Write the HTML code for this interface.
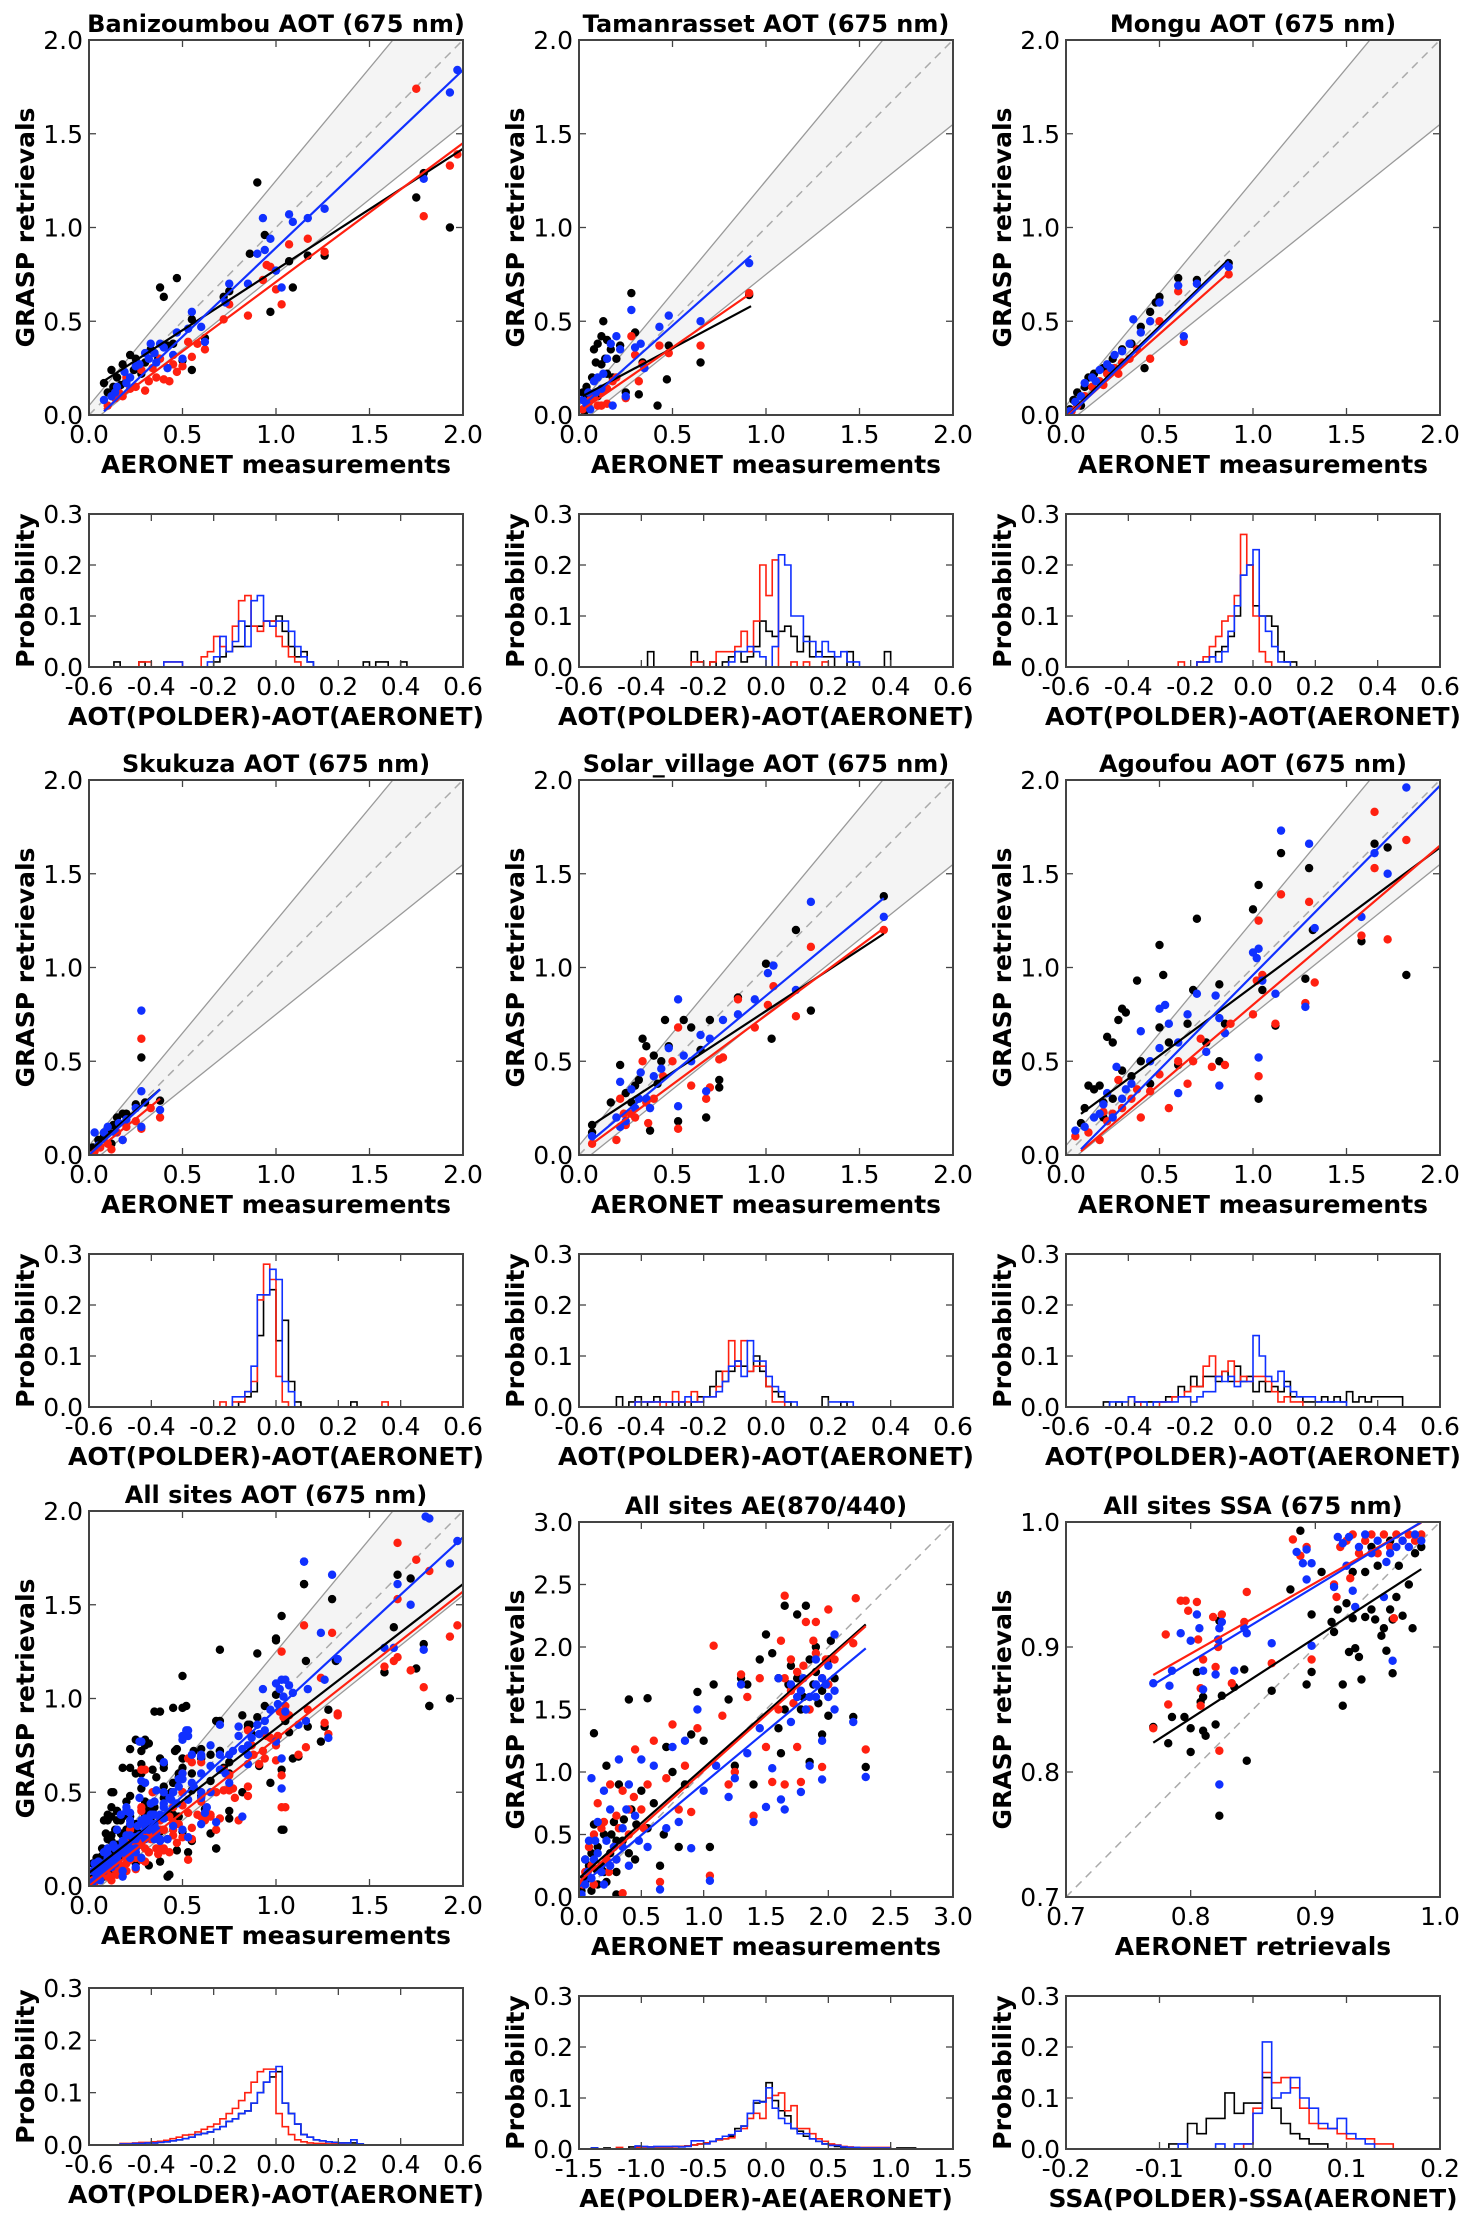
<!DOCTYPE html>
<html><head><meta charset="utf-8"><style>
html,body{margin:0;padding:0;background:#fff;}
svg{display:block;font-family:"DejaVu Sans","Liberation Sans",sans-serif;}
</style></head><body>
<svg id="fig" width="1472" height="2223" viewBox="0 0 1472 2223" xmlns="http://www.w3.org/2000/svg"></svg>
<script>
// ===== DATA =====
const aotTicks = [0, 0.5, 1.0, 1.5, 2.0];
const aeTicks = [0, 0.5, 1.0, 1.5, 2.0, 2.5, 3.0];
const ssaTicks = [0.7, 0.8, 0.9, 1.0];
const histYTicks = [0, 0.1, 0.2, 0.3];
const aotDiffTicks = [-0.6, -0.4, -0.2, 0.0, 0.2, 0.4, 0.6];
const aeDiffTicks = [-1.5, -1.0, -0.5, 0.0, 0.5, 1.0, 1.5];
const ssaDiffTicks = [-0.2, -0.1, 0.0, 0.1, 0.2];

// Banizoumbou
const banBlack = [[0.08,0.17],[0.1,0.12],[0.12,0.24],[0.15,0.2],[0.18,0.27],[0.22,0.32],[0.25,0.3],[0.3,0.28],[0.33,0.35],[0.38,0.68],[0.4,0.63],[0.42,0.37],[0.47,0.73],[0.5,0.29],[0.55,0.24],[0.55,0.51],[0.62,0.41],[0.72,0.63],[0.75,0.66],[0.86,0.86],[0.9,1.24],[0.94,0.96],[0.97,0.55],[1.07,0.82],[1.09,0.68],[1.17,0.85],[1.26,0.85],[1.75,1.16],[1.79,1.29],[1.93,1.0],[0.2,0.18],[0.28,0.22],[0.35,0.33],[0.45,0.38],[0.13,0.15],[0.17,0.16],[0.24,0.24],[0.37,0.3]];
const banRed = [[0.1,0.05],[0.14,0.09],[0.18,0.1],[0.2,0.2],[0.25,0.15],[0.28,0.24],[0.3,0.13],[0.32,0.18],[0.36,0.2],[0.4,0.19],[0.43,0.18],[0.47,0.23],[0.5,0.26],[0.53,0.39],[0.55,0.31],[0.58,0.38],[0.62,0.35],[0.72,0.51],[0.75,0.59],[0.85,0.53],[0.93,0.72],[0.95,0.8],[0.97,0.79],[1.0,0.67],[1.03,0.59],[1.07,0.91],[1.17,0.94],[1.26,0.87],[1.75,1.74],[1.79,1.06],[1.93,1.33],[1.97,1.39],[0.38,0.3],[0.45,0.27],[0.16,0.12],[0.22,0.14],[0.34,0.25]];
const banBlue = [[0.08,0.08],[0.12,0.1],[0.15,0.15],[0.19,0.23],[0.22,0.2],[0.27,0.27],[0.3,0.33],[0.33,0.38],[0.36,0.28],[0.38,0.38],[0.42,0.25],[0.45,0.32],[0.47,0.44],[0.5,0.3],[0.53,0.46],[0.55,0.55],[0.6,0.47],[0.62,0.39],[0.73,0.6],[0.75,0.7],[0.85,0.7],[0.9,0.86],[0.93,1.05],[0.94,0.88],[0.97,0.94],[1.0,0.77],[1.03,0.68],[1.07,1.07],[1.09,1.03],[1.17,1.05],[1.26,1.1],[1.79,1.26],[1.93,1.72],[1.97,1.84],[0.25,0.26],[0.35,0.33],[0.4,0.36],[0.14,0.12],[0.2,0.17],[0.32,0.3]];
const banFitSlope = [0.645, 0.74, 0.948];
const banFitIntercept = [0.13, -0.03, -0.056];
const banFitRange = [0.08, 2.0];

// Tamanrasset
const tamBlack = [[0.02,0.12],[0.04,0.15],[0.06,0.08],[0.08,0.35],[0.1,0.38],[0.12,0.42],[0.12,0.27],[0.13,0.5],[0.15,0.4],[0.17,0.35],[0.18,0.2],[0.2,0.3],[0.22,0.37],[0.25,0.12],[0.28,0.65],[0.3,0.44],[0.32,0.11],[0.34,0.28],[0.42,0.05],[0.47,0.19],[0.48,0.37],[0.65,0.28],[0.05,0.05],[0.1,0.1],[0.15,0.22],[0.07,0.2],[0.03,0.02],[0.91,0.64],[0.04,0.1],[0.09,0.28],[0.14,0.3]];
const tamRed = [[0.02,0.03],[0.05,0.06],[0.08,0.1],[0.1,0.05],[0.12,0.12],[0.15,0.14],[0.18,0.18],[0.2,0.2],[0.25,0.09],[0.28,0.42],[0.3,0.32],[0.32,0.18],[0.34,0.27],[0.43,0.37],[0.48,0.33],[0.65,0.37],[0.91,0.65],[0.15,0.06],[0.06,0.08],[0.12,0.05]];
const tamBlue = [[0.02,0.08],[0.05,0.12],[0.08,0.18],[0.1,0.2],[0.12,0.14],[0.15,0.3],[0.17,0.38],[0.2,0.42],[0.22,0.35],[0.25,0.1],[0.28,0.56],[0.3,0.36],[0.33,0.38],[0.35,0.25],[0.43,0.47],[0.48,0.53],[0.65,0.5],[0.91,0.81],[0.06,0.03],[0.18,0.05],[0.13,0.22],[0.04,0.06],[0.09,0.12]];
const tamFitSlope = [0.533, 0.689, 0.889];
const tamFitIntercept = [0.09, 0.016, 0.032];
const tamFitRange = [0.02, 0.92];

// Mongu
const monBlack = [[0.02,0.03],[0.04,0.08],[0.06,0.12],[0.1,0.15],[0.12,0.2],[0.15,0.22],[0.2,0.25],[0.25,0.3],[0.3,0.35],[0.35,0.38],[0.4,0.47],[0.45,0.55],[0.48,0.6],[0.5,0.63],[0.6,0.73],[0.7,0.72],[0.87,0.81],[0.42,0.25],[0.08,0.05]];
const monRed = [[0.03,0.02],[0.06,0.05],[0.1,0.1],[0.14,0.15],[0.18,0.18],[0.22,0.22],[0.26,0.25],[0.3,0.28],[0.34,0.3],[0.38,0.35],[0.45,0.3],[0.5,0.5],[0.6,0.66],[0.63,0.39],[0.87,0.75],[0.2,0.16],[0.28,0.22]];
const monBlue = [[0.02,0.02],[0.05,0.07],[0.08,0.1],[0.1,0.17],[0.14,0.2],[0.18,0.24],[0.22,0.27],[0.26,0.32],[0.3,0.34],[0.34,0.38],[0.36,0.51],[0.4,0.44],[0.45,0.5],[0.5,0.6],[0.6,0.69],[0.7,0.7],[0.87,0.79],[0.63,0.42],[0.16,0.18],[0.24,0.25]];
const monFitSlope = [0.965, 0.884, 0.965];
const monFitIntercept = [-0.01, -0.01, -0.02];
const monFitRange = [0.01, 0.87];

// Skukuza
const skuBlack = [[0.02,0.04],[0.05,0.08],[0.08,0.1],[0.1,0.14],[0.13,0.16],[0.15,0.2],[0.18,0.22],[0.2,0.22],[0.25,0.27],[0.28,0.52],[0.3,0.28],[0.38,0.29],[0.12,0.06]];
const skuRed = [[0.03,0.02],[0.06,0.04],[0.1,0.06],[0.12,0.03],[0.15,0.12],[0.18,0.08],[0.2,0.15],[0.25,0.18],[0.28,0.62],[0.28,0.14],[0.38,0.2],[0.33,0.25]];
const skuBlue = [[0.03,0.12],[0.05,0.05],[0.08,0.12],[0.1,0.15],[0.14,0.12],[0.16,0.17],[0.2,0.19],[0.25,0.25],[0.28,0.77],[0.28,0.34],[0.28,0.15],[0.38,0.24],[0.18,0.08]];
const skuFitSlope = [0.87, 0.816, 0.92];
const skuFitIntercept = [0.02, -0.01, 0.0];
const skuFitRange = [0.0, 0.38];

// Solar village
const solBlack = [[0.07,0.16],[0.07,0.12],[0.17,0.28],[0.22,0.48],[0.25,0.33],[0.3,0.37],[0.34,0.62],[0.36,0.58],[0.38,0.13],[0.4,0.53],[0.44,0.5],[0.46,0.72],[0.48,0.58],[0.53,0.18],[0.56,0.72],[0.6,0.68],[0.65,0.56],[0.68,0.2],[0.7,0.72],[0.75,0.36],[0.75,0.4],[0.85,0.84],[1.0,1.02],[1.03,0.62],[1.16,1.2],[1.24,0.77],[1.63,1.38],[0.28,0.28],[0.32,0.4],[0.42,0.38]];
const solRed = [[0.07,0.06],[0.2,0.08],[0.22,0.3],[0.25,0.16],[0.3,0.2],[0.34,0.5],[0.37,0.17],[0.4,0.3],[0.45,0.42],[0.5,0.5],[0.53,0.68],[0.53,0.14],[0.6,0.37],[0.68,0.3],[0.7,0.36],[0.75,0.51],[0.77,0.52],[0.85,0.83],[0.94,0.68],[1.01,0.8],[1.04,0.9],[1.16,0.74],[1.24,1.11],[1.63,1.2],[0.28,0.22],[0.24,0.22],[0.36,0.28]];
const solBlue = [[0.07,0.1],[0.2,0.2],[0.22,0.39],[0.25,0.18],[0.3,0.25],[0.33,0.44],[0.36,0.3],[0.4,0.42],[0.44,0.46],[0.48,0.57],[0.53,0.83],[0.53,0.26],[0.56,0.53],[0.6,0.5],[0.65,0.64],[0.68,0.34],[0.7,0.62],[0.77,0.72],[0.85,0.75],[0.94,0.83],[1.01,0.97],[1.04,1.01],[1.16,0.88],[1.24,1.35],[1.63,1.27],[0.28,0.35],[0.38,0.25],[0.22,0.15],[0.32,0.3]];
const solFitSlope = [0.654, 0.737, 0.827];
const solFitIntercept = [0.114, 0.008, 0.022];
const solFitRange = [0.07, 1.63];

// Agoufou
const agoBlack = [[0.08,0.17],[0.12,0.37],[0.15,0.35],[0.18,0.37],[0.2,0.28],[0.22,0.63],[0.25,0.6],[0.28,0.72],[0.3,0.78],[0.32,0.76],[0.35,0.42],[0.38,0.93],[0.4,0.5],[0.45,0.38],[0.5,1.12],[0.5,0.68],[0.52,0.96],[0.55,0.6],[0.6,0.48],[0.65,0.7],[0.68,0.88],[0.7,1.26],[0.75,0.6],[0.82,0.91],[0.82,0.5],[0.85,0.7],[1.0,1.31],[1.03,1.44],[1.03,0.3],[1.05,0.88],[1.15,1.61],[1.12,0.69],[1.3,1.53],[1.28,0.94],[1.32,1.2],[1.58,1.14],[1.65,1.66],[1.72,1.64],[1.82,0.96],[0.3,0.45],[0.25,0.3],[0.1,0.25],[0.2,0.2]];
const agoRed = [[0.05,0.1],[0.12,0.12],[0.18,0.08],[0.2,0.23],[0.22,0.18],[0.28,0.4],[0.3,0.25],[0.35,0.3],[0.4,0.2],[0.45,0.34],[0.5,0.43],[0.55,0.25],[0.6,0.5],[0.65,0.38],[0.68,0.5],[0.72,0.62],[0.78,0.47],[0.85,0.48],[0.88,0.7],[1.0,0.75],[1.02,0.93],[1.03,1.25],[1.05,0.96],[1.03,0.42],[1.12,0.7],[1.15,1.39],[1.28,0.81],[1.3,1.35],[1.33,0.92],[1.58,1.17],[1.65,1.83],[1.65,1.53],[1.72,1.15],[1.82,1.68],[0.25,0.22],[0.38,0.35]];
const agoBlue = [[0.05,0.13],[0.1,0.15],[0.15,0.2],[0.2,0.27],[0.22,0.33],[0.25,0.2],[0.27,0.47],[0.3,0.3],[0.35,0.38],[0.4,0.66],[0.45,0.5],[0.5,0.57],[0.5,0.78],[0.53,0.8],[0.55,0.7],[0.6,0.6],[0.65,0.75],[0.7,0.86],[0.75,0.55],[0.8,0.85],[0.82,0.37],[0.82,0.73],[0.85,0.65],[1.0,1.08],[1.02,1.05],[1.03,1.1],[1.03,0.52],[1.05,0.93],[1.12,0.86],[1.15,1.73],[1.28,0.79],[1.3,1.66],[1.33,1.21],[1.58,1.27],[1.65,1.61],[1.72,1.5],[1.82,1.96],[0.6,0.33],[0.18,0.22],[0.32,0.35]];
const agoFitSlope = [0.74, 0.849, 1.01];
const agoFitIntercept = [0.16, -0.048, -0.05];
const agoFitRange = [0.08, 2.0];

// All sites AOT (union of sites + other sites)
const allExtraBlack = [[0.1,0.35],[0.12,0.5],[0.15,0.4],[0.18,0.63],[0.2,0.45],[0.22,0.73],[0.25,0.78],[0.28,0.6],[0.3,0.75],[0.35,0.93],[0.4,0.65],[0.45,0.95],[0.5,0.95],[0.43,0.06],[0.68,0.2],[0.7,0.88],[0.85,0.86],[0.9,0.9],[1.0,1.32],[1.04,0.3],[1.15,1.61],[1.58,1.14],[1.82,0.96],[0.05,0.15],[0.1,0.25],[0.2,0.3],[0.3,0.4],[0.05,0.07],[0.15,0.2]];
const allExtraRed = [[0.05,0.05],[0.15,0.15],[0.3,0.62],[0.5,0.6],[0.55,0.66],[0.8,0.35],[1.05,0.42],[1.33,0.91],[1.65,1.22],[0.2,0.12],[0.4,0.3],[0.6,0.45],[0.75,0.52]];
const allExtraBlue = [[0.05,0.1],[0.1,0.2],[0.2,0.4],[0.27,0.77],[0.3,0.55],[0.5,0.8],[0.52,0.83],[0.4,0.5],[1.05,1.1],[1.15,1.73],[1.8,1.97],[0.35,0.45],[0.6,0.7],[0.8,0.8]];
const allFitSlope = [0.77, 0.785, 0.92];
const allFitIntercept = [0.07, 0.0, 0.02];
const allFitRange = [0.0, 2.0];

// All sites AE
const aeBlack = [[0.05,0.3],[0.08,0.15],[0.1,0.05],[0.12,1.31],[0.12,0.58],[0.15,0.4],[0.18,0.25],[0.2,0.5],[0.22,1.05],[0.25,0.35],[0.28,0.6],[0.3,0.2],[0.32,0.9],[0.35,0.45],[0.4,1.58],[0.42,0.7],[0.45,0.3],[0.5,0.85],[0.55,1.59],[0.55,0.55],[0.6,0.75],[0.65,0.25],[0.68,0.5],[0.7,1.2],[0.75,1.0],[0.8,0.4],[0.85,0.9],[0.9,1.3],[0.95,1.64],[1.05,0.4],[1.0,1.25],[1.08,1.7],[1.2,1.58],[1.25,1.05],[1.3,1.75],[1.35,1.7],[1.4,0.9],[1.45,1.9],[1.5,2.1],[1.55,1.95],[1.6,1.35],[1.62,1.15],[1.65,2.33],[1.68,1.7],[1.75,2.26],[1.78,1.5],[1.82,2.33],[1.85,1.08],[1.9,1.8],[1.95,1.3],[2.0,1.45],[2.05,1.75],[2.2,1.44],[2.3,1.04],[1.9,2.0],[1.8,1.6],[0.3,0.02],[0.15,0.1],[0.05,0.15],[0.1,0.35],[0.2,0.2],[0.3,0.45],[0.4,0.35],[1.7,1.85],[1.85,1.9],[1.95,1.65],[2.0,1.9],[1.65,1.5],[0.02,0.05],[0.08,0.25],[0.14,0.22],[0.22,0.12],[0.26,0.5],[0.36,0.62],[0.46,0.58],[1.75,1.75],[1.88,1.7],[1.92,1.55],[2.02,2.05],[1.6,1.75]];
const aeRed = [[0.05,0.2],[0.08,0.4],[0.12,0.1],[0.15,0.75],[0.18,0.55],[0.22,0.3],[0.25,0.9],[0.28,0.4],[0.3,0.65],[0.35,0.85],[0.4,0.5],[0.45,1.18],[0.5,0.7],[0.55,0.9],[0.6,1.25],[0.65,0.12],[0.7,0.95],[0.75,1.38],[0.8,0.7],[0.85,1.05],[0.9,0.68],[0.95,1.35],[1.05,0.17],[1.08,2.01],[1.15,1.45],[1.2,0.9],[1.25,1.0],[1.3,1.78],[1.35,1.6],[1.4,0.65],[1.45,1.75],[1.5,1.2],[1.55,0.92],[1.6,1.5],[1.62,2.05],[1.65,2.41],[1.65,0.9],[1.7,1.9],[1.75,1.2],[1.78,0.92],[1.82,2.2],[1.85,1.5],[1.9,2.2],[1.95,1.04],[2.0,2.3],[2.05,1.9],[2.2,2.03],[2.22,2.39],[2.3,1.18],[1.95,1.75],[1.7,1.65],[0.35,0.03],[0.1,0.25],[0.2,0.6],[0.3,0.3],[0.4,0.7],[1.75,1.8],[1.9,1.95],[2.0,1.7],[1.65,1.75],[0.03,0.1],[0.12,0.5],[0.24,0.2],[0.32,0.55],[0.44,0.8],[0.52,0.55],[1.8,1.85],[1.88,2.05],[1.98,1.9],[1.72,1.55]];
const aeBlue = [[0.05,0.1],[0.08,0.45],[0.1,0.95],[0.12,0.3],[0.15,0.6],[0.18,0.2],[0.2,0.85],[0.22,0.45],[0.25,0.7],[0.3,0.3],[0.32,1.1],[0.35,0.55],[0.4,0.9],[0.45,0.65],[0.5,1.1],[0.55,0.4],[0.6,1.05],[0.65,0.06],[0.7,0.55],[0.75,1.2],[0.8,0.6],[0.85,1.25],[0.9,0.39],[0.95,1.5],[1.0,0.85],[1.05,0.13],[1.1,1.05],[1.2,0.8],[1.25,0.95],[1.3,1.7],[1.35,1.15],[1.4,0.6],[1.45,1.35],[1.5,0.72],[1.55,1.03],[1.6,1.75],[1.62,0.78],[1.65,0.7],[1.7,1.4],[1.75,1.6],[1.78,0.84],[1.8,1.75],[1.85,1.05],[1.9,1.7],[1.95,0.94],[1.95,1.25],[2.0,1.85],[2.05,1.5],[2.2,1.4],[2.3,0.96],[1.9,1.9],[2.05,2.1],[0.4,0.25],[0.05,0.3],[0.1,0.15],[0.15,0.35],[0.25,0.25],[0.35,0.4],[1.85,1.6],[1.95,1.75],[1.7,1.7],[2.0,1.6],[0.02,0.02],[0.07,0.2],[0.13,0.45],[0.2,0.1],[0.28,0.4],[0.38,0.7],[0.48,0.45],[1.78,1.65],[1.82,1.5],[1.9,1.6],[1.98,1.7],[2.05,1.65]];
const aeFitSlope = [0.883, 0.89, 0.83];
const aeFitIntercept = [0.15, 0.12, 0.08];
const aeFitRange = [0.0, 2.3];

// All sites SSA
const ssaBlack = [[0.77,0.836],[0.782,0.823],[0.785,0.844],[0.795,0.844],[0.8,0.835],[0.8,0.816],[0.805,0.88],[0.808,0.856],[0.81,0.833],[0.812,0.829],[0.81,0.86],[0.82,0.838],[0.823,0.921],[0.825,0.861],[0.823,0.765],[0.835,0.868],[0.843,0.882],[0.845,0.809],[0.865,0.865],[0.88,0.946],[0.888,0.993],[0.893,0.87],[0.897,0.88],[0.897,0.926],[0.913,0.92],[0.915,0.912],[0.918,0.93],[0.922,0.87],[0.922,0.853],[0.925,0.935],[0.927,0.896],[0.93,0.923],[0.932,0.899],[0.935,0.892],[0.937,0.874],[0.94,0.96],[0.94,0.924],[0.945,0.93],[0.948,0.922],[0.95,0.965],[0.953,0.909],[0.955,0.915],[0.957,0.897],[0.96,0.93],[0.962,0.879],[0.962,0.922],[0.965,0.94],[0.967,0.965],[0.97,0.925],[0.975,0.95],[0.978,0.915],[0.98,0.975],[0.985,0.98],[0.945,0.98],[0.93,0.96],[0.96,0.985],[0.905,0.96]];
const ssaRed = [[0.77,0.835],[0.78,0.91],[0.782,0.854],[0.792,0.937],[0.796,0.937],[0.798,0.929],[0.805,0.936],[0.806,0.906],[0.808,0.853],[0.808,0.867],[0.81,0.89],[0.818,0.924],[0.82,0.884],[0.822,0.9],[0.823,0.817],[0.825,0.926],[0.833,0.871],[0.845,0.944],[0.843,0.92],[0.865,0.887],[0.882,0.986],[0.888,0.973],[0.893,0.98],[0.897,0.89],[0.915,0.95],[0.917,0.94],[0.92,0.98],[0.925,0.985],[0.93,0.99],[0.935,0.975],[0.94,0.985],[0.945,0.99],[0.95,0.975],[0.955,0.99],[0.96,0.98],[0.963,0.923],[0.965,0.99],[0.97,0.985],[0.975,0.99],[0.98,0.985],[0.985,0.99],[0.928,0.955]];
const ssaBlue = [[0.77,0.871],[0.783,0.869],[0.785,0.881],[0.792,0.911],[0.8,0.905],[0.805,0.926],[0.807,0.915],[0.81,0.881],[0.81,0.866],[0.82,0.878],[0.822,0.906],[0.823,0.915],[0.825,0.92],[0.823,0.79],[0.835,0.881],[0.843,0.915],[0.845,0.911],[0.865,0.903],[0.885,0.976],[0.89,0.967],[0.893,0.954],[0.893,0.978],[0.897,0.967],[0.897,0.901],[0.915,0.948],[0.918,0.988],[0.922,0.983],[0.925,0.965],[0.927,0.988],[0.93,0.945],[0.932,0.932],[0.935,0.98],[0.94,0.99],[0.945,0.975],[0.95,0.985],[0.955,0.94],[0.957,0.968],[0.96,0.975],[0.962,0.889],[0.965,0.98],[0.97,0.985],[0.975,0.98],[0.98,0.99],[0.985,0.985]];
const ssaFitSlope = [0.646, 0.567, 0.605];
const ssaFitIntercept = [0.326, 0.441, 0.404];
const ssaFitRange = [0.77, 0.985];

// Histograms: values per bin + start
const banHistBlack = [0.01,0,0,0,0.01,0,0,0,0,0,0,0,0,0,0,0,0.01,0.02,0.03,0.04,0.04,0.08,0.08,0.08,0.09,0.09,0.10,0.07,0.04,0.02,0.03,0.01,0,0,0,0,0,0,0,0,0.01,0,0.01,0.01,0,0,0.01];
const banHistRed = [0.01,0.01,0,0,0.01,0.01,0.01,0,0,0,0.02,0.03,0.06,0.04,0.03,0.08,0.13,0.14,0.08,0.07,0.09,0.09,0.06,0.04,0.02,0.01];
const banHistBlue = [0.01,0.01,0.01,0,0,0,0,0.01,0.02,0.06,0.03,0.05,0.09,0.04,0.13,0.14,0.09,0.08,0.09,0.09,0.07,0.04,0.02,0.01];
const banHistStart = [-0.52, -0.44, -0.36];
const tamHistBlack = [0.03,0,0,0,0,0,0,0.03,0.01,0,0.01,0,0.01,0.02,0.03,0.01,0.02,0.04,0.09,0.07,0.06,0.07,0.08,0.06,0.03,0.06,0.02,0.03,0.02,0.02,0,0,0.03,0,0,0,0,0,0.03];
const tamHistRed = [0.01,0.01,0,0.01,0.03,0.03,0.03,0.04,0.07,0.03,0.09,0.20,0.14,0.21,0,0,0.01,0,0.01,0,0,0.01];
const tamHistBlue = [0.01,0.03,0.03,0.04,0.03,0.02,0,0.04,0.22,0.20,0.10,0.10,0.05,0.05,0.02,0.05,0.03,0.02,0.03,0.01,0.01];
const tamHistStart = [-0.38, -0.24, -0.12];
const monHistBlack = [0.01,0.01,0.02,0.03,0.04,0.06,0.10,0.18,0.20,0.12,0.10,0.10,0.08,0.03,0.01,0.01];
const monHistRed = [0.01,0,0,0.01,0.02,0.04,0.06,0.09,0.10,0.14,0.26,0.20,0.10,0.03,0.01];
const monHistBlue = [0.01,0.01,0.02,0.01,0.03,0.07,0.12,0.18,0.20,0.23,0.10,0.07,0.04,0.01,0.01];
const monHistStart = [-0.18, -0.24, -0.18];
const skuHistBlack = [0.01,0.02,0.03,0.14,0.22,0.23,0.13,0.17,0.05,0.01,0,0,0,0,0,0,0,0,0.01];
const skuHistRed = [0.01,0,0.01,0.01,0.03,0.05,0.21,0.28,0.25,0.06,0.01,0,0,0,0,0,0,0,0,0,0,0,0,0,0,0,0.01];
const skuHistBlue = [0.02,0.02,0.03,0.08,0.22,0.22,0.27,0.25,0.05,0.03];
const skuHistStart = [-0.12, -0.18, -0.14];
const solHistBlack = [0.02,0,0.01,0.02,0,0.01,0.02,0.01,0.01,0,0.01,0,0.01,0.02,0.02,0.04,0.07,0.05,0.07,0.09,0.08,0.07,0.10,0.07,0.04,0.03,0.02,0.01,0,0,0,0,0,0.02,0,0,0.01];
const solHistRed = [0.01,0.01,0.01,0.01,0,0.01,0.03,0.01,0.01,0.03,0.01,0.02,0.02,0.04,0.07,0.13,0.08,0.13,0.07,0.08,0.08,0.04,0.01,0.01];
const solHistBlue = [0.01,0.01,0.01,0.01,0.01,0.01,0.01,0.01,0.02,0.01,0.01,0.02,0.02,0.03,0.05,0.08,0.09,0.06,0.13,0.09,0.09,0.06,0.04,0.03,0.01,0.01,0,0,0,0,0,0.01,0.01,0.01,0.01];
const solHistStart = [-0.48, -0.42, -0.42];
const agoHistBlack = [0.01,0,0.01,0,0,0.01,0.01,0.01,0.01,0.01,0.02,0.02,0.04,0.03,0.06,0.04,0.06,0.06,0.05,0.07,0.05,0.08,0.05,0.06,0.03,0.05,0.03,0.04,0.03,0.05,0.02,0.02,0.01,0.01,0.01,0.02,0.01,0.02,0.01,0.03,0.01,0.02,0.01,0.02,0.02,0.02,0.02,0.02];
const agoHistRed = [0.02,0.01,0,0,0,0.01,0.01,0.02,0.02,0.03,0.04,0.04,0.08,0.10,0.06,0.07,0.09,0.05,0.06,0.05,0.06,0.06,0.05,0.03,0.01,0.02,0.01,0.01];
const agoHistBlue = [0.01,0.01,0.01,0.02,0.01,0.01,0,0.01,0.01,0.01,0.01,0.02,0.02,0.01,0.02,0.03,0.03,0.06,0.05,0.06,0.04,0.05,0.05,0.14,0.10,0.06,0.05,0.07,0.04,0.03,0.02,0.02,0.02,0.01,0.01,0.01,0.01,0.01];
const agoHistStart = [-0.48, -0.40, -0.46];
const allHistBlack = [.002,.002,.003,.003,.004,.004,.005,.006,.008,.01,.012,.015,.02,.022,.025,.03,.035,.045,.05,.06,.065,.08,.10,.12,.13,.14,.08,.06,.04,.02,.015,.01,.008,.006,.005,.004,.004,.004,.002];
const allHistRed = [.003,.003,.004,.005,.005,.006,.007,.009,.012,.015,.019,.02,.025,.03,.035,.04,.05,.06,.07,.085,.10,.12,.14,.145,.145,.06,.035,.02,.01,.006,.004,.003,.003,.002,.002,.001];
const allHistBlue = [.002,.002,.003,.003,.004,.004,.005,.006,.008,.01,.012,.015,.02,.022,.025,.03,.035,.045,.05,.06,.065,.08,.10,.12,.14,.15,.08,.06,.04,.02,.015,.01,.008,.006,.005,.004,.004,.01,.002];
const allHistStart = [-0.5, -0.5, -0.5];
const aeHistBlack = [0.002,0,0.002,0,0,0,0.004,0.004,0.004,0.004,0.004,0.004,0.004,0.005,0.005,0.006,0.008,0.01,0.012,0.015,0.018,0.02,0.025,0.04,0.045,0.07,0.09,0.093,0.13,0.095,0.075,0.065,0.04,0.035,0.025,0.02,0.015,0.01,0.008,0.005,0.003,0.002,0.002,0.002,0.002,0.002,0,0,0,0.002,0.002,0.002];
const aeHistRed = [0,0,0,0,0.003,0,0,0.003,0.004,0.004,0.004,0.004,0.004,0.004,0.005,0.006,0.008,0.01,0.012,0.015,0.018,0.02,0.022,0.035,0.04,0.06,0.07,0.06,0.10,0.105,0.11,0.075,0.085,0.04,0.04,0.03,0.02,0.015,0.01,0.008,0.005,0.004,0.003,0.003,0.003,0.003,0.003,0.003];
const aeHistBlue = [0.002,0,0,0,0,0,0,0.006,0.005,0.004,0.005,0.005,0.005,0.005,0.004,0.005,0.016,0.016,0.01,0.015,0.02,0.025,0.028,0.035,0.045,0.07,0.095,0.092,0.12,0.08,0.06,0.05,0.04,0.03,0.03,0.02,0.015,0.01,0.007,0.007,0.004,0.003,0.003,0.002,0.002,0.002,0.002,0.002];
const aeHistStart = [-1.4, -1.4, -1.4];
const ssaHistBlack = [0.01,0.01,0.05,0.03,0.06,0.06,0.11,0.07,0.09,0.09,0.14,0.08,0.05,0.03,0.02,0.01,0.01];
const ssaHistRed = [0.01,0.08,0.15,0.13,0.14,0.12,0.08,0.05,0.04,0.04,0.03,0.02,0.02,0.02,0.01,0.01];
const ssaHistBlue = [0.01,0,0,0,0.01,0,0.01,0.01,0.07,0.21,0.10,0.11,0.14,0.10,0.08,0.05,0.04,0.06,0.03,0.02,0.01];
const ssaHistStart = [-0.09, -0.01, -0.08];

// ===== RENDER =====
const NS = 'http://www.w3.org/2000/svg';
const svg = document.getElementById('fig');
const COL = {black:'#000000', red:'#ff2010', blue:'#1030ff'};
let clipId = 0;
function el(tag, attrs, parent){
  const e = document.createElementNS(NS, tag);
  for (const k in attrs) e.setAttribute(k, attrs[k]);
  (parent || svg).appendChild(e);
  return e;
}
function fmt(v){ return v.toFixed(1).replace('-0.0','0.0'); }

function axesFrame(g, x, y, w, h, xt, yt, sx, sy){
  xt.forEach(t => {
    const px = sx(t);
    el('line',{x1:px,x2:px,y1:y+h,y2:y+h-7,stroke:'#444','stroke-width':1.3},g);
    el('line',{x1:px,x2:px,y1:y,y2:y+7,stroke:'#444','stroke-width':1.3},g);
    const lab = el('text',{x:px,y:y+h+28,'text-anchor':'middle','font-size':25,fill:'#000'},g);
    
    
    lab.textContent = fmt(t);
  });
  yt.forEach(t => {
    const py = sy(t);
    el('line',{x1:x,x2:x+7,y1:py,y2:py,stroke:'#444','stroke-width':1.3},g);
    el('line',{x1:x+w,x2:x+w-7,y1:py,y2:py,stroke:'#444','stroke-width':1.3},g);
    const lab = el('text',{x:x-6,y:py+9,'text-anchor':'end','font-size':25,fill:'#000'},g);
    
    
    lab.textContent = fmt(t);
  });
  const fr = el('rect',{x:x,y:y,width:w,height:h,fill:'none',stroke:'#444','stroke-width':2},g);
  
  
}

function label(g, txt, x, y, rot, name, size){
  const t = el('text',{x:x,y:y,'text-anchor':'middle','font-size':size||25,'font-weight':'bold',fill:'#000'},g);
  if (rot) t.setAttribute('transform','rotate(-90 '+x+' '+y+')');
  
  
  t.textContent = txt;
}

function scatterPanel(cfg){
  const {x, y, name, title, xlabel, min, max, ticks, band, series, slopes, intercepts, range} = cfg;
  const w = 374, h = 375;
  const sx = v => x + (v - min) / (max - min) * w;
  const sy = v => y + h - (v - min) / (max - min) * h;
  const g = el('g',{});
  
  
  const cid = 'c' + (clipId++);
  const cp = el('clipPath',{id:cid},g);
  el('rect',{x:x,y:y,width:w,height:h},cp);
  const pg = el('g',{'clip-path':'url(#'+cid+')'},g);
  if (band){
    const up = v => 1.2*v + 0.05, lo = v => 0.8*v - 0.05;
    const pts = [[sx(min),sy(up(min))],[sx(max),sy(up(max))],[sx(max),sy(lo(max))],[sx(min),sy(lo(min))]];
    const poly = el('polygon',{points:pts.map(p=>p.join(',')).join(' '),fill:'#f4f4f4',stroke:'none'},pg);
    
    
    el('line',{x1:sx(min),y1:sy(up(min)),x2:sx(max),y2:sy(up(max)),stroke:'#999','stroke-width':1.3},pg);
    el('line',{x1:sx(min),y1:sy(lo(min)),x2:sx(max),y2:sy(lo(max)),stroke:'#999','stroke-width':1.3},pg);
  }
  const one = el('line',{x1:sx(min),y1:sy(min),x2:sx(max),y2:sy(max),stroke:'#aaa','stroke-width':1.5,'stroke-dasharray':'8,6'},pg);
  
  
  const colors = ['black','red','blue'];
  colors.forEach((c, i) => {
    const sg = el('g',{fill:COL[c]},pg);
    
    
    series[i].forEach(p => {
      const d = el('circle',{cx:sx(p[0]),cy:sy(p[1]),r:4.2},sg);
      
      
    });
  });
  colors.forEach((c, i) => {
    const f = v => slopes[i]*v + intercepts[i];
    const ln = el('line',{x1:sx(range[0]),y1:sy(f(range[0])),x2:sx(range[1]),y2:sy(f(range[1])),stroke:COL[c],'stroke-width':2.2},pg);
    
    
  });
  axesFrame(g, x, y, w, h, ticks, ticks, sx, sy);
  label(g, title, x + w/2, y - 8, false, 'panel-title', 24);
  label(g, xlabel, x + w/2, y + h + 58, false, 'x-axis-title');
  label(g, 'GRASP retrievals', x - 55, y + h/2, true, 'y-axis-title');
}

function histPanel(cfg){
  const {x, y, h, name, xlabel, xmin, xmax, ticks, bw, series, starts} = cfg;
  const w = 374, ymax = 0.3;
  const sx = v => x + (v - xmin) / (xmax - xmin) * w;
  const sy = v => y + h - v / ymax * h;
  const g = el('g',{});
  
  
  const colors = ['black','red','blue'];
  colors.forEach((c, i) => {
    let d = 'M' + sx(starts[i]) + ' ' + sy(0);
    series[i].forEach((v, k) => {
      d += ' V' + sy(v) + ' H' + sx(starts[i] + (k+1)*bw);
    });
    d += ' V' + sy(0);
    const p = el('path',{d:d,fill:'none',stroke:COL[c],'stroke-width':1.6},g);
    
    
  });
  axesFrame(g, x, y, w, h, ticks, histYTicks, sx, sy);
  label(g, xlabel, x + w/2, y + h + 58, false, 'hist-x-axis-title');
  label(g, 'Probability', x - 55, y + h/2, true, 'hist-y-axis-title');
}

const AOTX = 'AERONET measurements';
const DIFF = 'AOT(POLDER)-AOT(AERONET)';
const colX = [89, 579, 1066];

scatterPanel({x:colX[0],y:40,name:'banizoumbou-scatter',title:'Banizoumbou AOT (675 nm)',xlabel:AOTX,min:0,max:2,ticks:aotTicks,band:true,series:[banBlack,banRed,banBlue],slopes:banFitSlope,intercepts:banFitIntercept,range:banFitRange});
scatterPanel({x:colX[1],y:40,name:'tamanrasset-scatter',title:'Tamanrasset AOT (675 nm)',xlabel:AOTX,min:0,max:2,ticks:aotTicks,band:true,series:[tamBlack,tamRed,tamBlue],slopes:tamFitSlope,intercepts:tamFitIntercept,range:tamFitRange});
scatterPanel({x:colX[2],y:40,name:'mongu-scatter',title:'Mongu AOT (675 nm)',xlabel:AOTX,min:0,max:2,ticks:aotTicks,band:true,series:[monBlack,monRed,monBlue],slopes:monFitSlope,intercepts:monFitIntercept,range:monFitRange});
histPanel({x:colX[0],y:514,h:153,name:'banizoumbou-hist',xlabel:DIFF,xmin:-0.6,xmax:0.6,ticks:aotDiffTicks,bw:0.02,series:[banHistBlack,banHistRed,banHistBlue],starts:banHistStart});
histPanel({x:colX[1],y:514,h:153,name:'tamanrasset-hist',xlabel:DIFF,xmin:-0.6,xmax:0.6,ticks:aotDiffTicks,bw:0.02,series:[tamHistBlack,tamHistRed,tamHistBlue],starts:tamHistStart});
histPanel({x:colX[2],y:514,h:153,name:'mongu-hist',xlabel:DIFF,xmin:-0.6,xmax:0.6,ticks:aotDiffTicks,bw:0.02,series:[monHistBlack,monHistRed,monHistBlue],starts:monHistStart});

scatterPanel({x:colX[0],y:780,name:'skukuza-scatter',title:'Skukuza AOT (675 nm)',xlabel:AOTX,min:0,max:2,ticks:aotTicks,band:true,series:[skuBlack,skuRed,skuBlue],slopes:skuFitSlope,intercepts:skuFitIntercept,range:skuFitRange});
scatterPanel({x:colX[1],y:780,name:'solar-village-scatter',title:'Solar_village AOT (675 nm)',xlabel:AOTX,min:0,max:2,ticks:aotTicks,band:true,series:[solBlack,solRed,solBlue],slopes:solFitSlope,intercepts:solFitIntercept,range:solFitRange});
scatterPanel({x:colX[2],y:780,name:'agoufou-scatter',title:'Agoufou AOT (675 nm)',xlabel:AOTX,min:0,max:2,ticks:aotTicks,band:true,series:[agoBlack,agoRed,agoBlue],slopes:agoFitSlope,intercepts:agoFitIntercept,range:agoFitRange});
histPanel({x:colX[0],y:1254,h:153,name:'skukuza-hist',xlabel:DIFF,xmin:-0.6,xmax:0.6,ticks:aotDiffTicks,bw:0.02,series:[skuHistBlack,skuHistRed,skuHistBlue],starts:skuHistStart});
histPanel({x:colX[1],y:1254,h:153,name:'solar-village-hist',xlabel:DIFF,xmin:-0.6,xmax:0.6,ticks:aotDiffTicks,bw:0.02,series:[solHistBlack,solHistRed,solHistBlue],starts:solHistStart});
histPanel({x:colX[2],y:1254,h:153,name:'agoufou-hist',xlabel:DIFF,xmin:-0.6,xmax:0.6,ticks:aotDiffTicks,bw:0.02,series:[agoHistBlack,agoHistRed,agoHistBlue],starts:agoHistStart});

const allBlack = [].concat(banBlack, tamBlack, monBlack, skuBlack, solBlack, agoBlack, allExtraBlack);
const allRed = [].concat(banRed, tamRed, monRed, skuRed, solRed, agoRed, allExtraRed);
const allBlue = [].concat(banBlue, tamBlue, monBlue, skuBlue, solBlue, agoBlue, allExtraBlue);
scatterPanel({x:colX[0],y:1511,name:'all-sites-aot-scatter',title:'All sites AOT (675 nm)',xlabel:AOTX,min:0,max:2,ticks:aotTicks,band:true,series:[allBlack,allRed,allBlue],slopes:allFitSlope,intercepts:allFitIntercept,range:allFitRange});
scatterPanel({x:colX[1],y:1522,name:'all-sites-ae-scatter',title:'All sites AE(870/440)',xlabel:AOTX,min:0,max:3,ticks:aeTicks,band:false,series:[aeBlack,aeRed,aeBlue],slopes:aeFitSlope,intercepts:aeFitIntercept,range:aeFitRange});
scatterPanel({x:colX[2],y:1522,name:'all-sites-ssa-scatter',title:'All sites SSA (675 nm)',xlabel:'AERONET retrievals',min:0.7,max:1.0,ticks:ssaTicks,band:false,series:[ssaBlack,ssaRed,ssaBlue],slopes:ssaFitSlope,intercepts:ssaFitIntercept,range:ssaFitRange});
histPanel({x:colX[0],y:1988,h:157,name:'all-sites-aot-hist',xlabel:DIFF,xmin:-0.6,xmax:0.6,ticks:aotDiffTicks,bw:0.02,series:[allHistBlack,allHistRed,allHistBlue],starts:allHistStart});
histPanel({x:colX[1],y:1996,h:153,name:'all-sites-ae-hist',xlabel:'AE(POLDER)-AE(AERONET)',xmin:-1.5,xmax:1.5,ticks:aeDiffTicks,bw:0.05,series:[aeHistBlack,aeHistRed,aeHistBlue],starts:aeHistStart});
histPanel({x:colX[2],y:1996,h:153,name:'all-sites-ssa-hist',xlabel:'SSA(POLDER)-SSA(AERONET)',xmin:-0.2,xmax:0.2,ticks:ssaDiffTicks,bw:0.01,series:[ssaHistBlack,ssaHistRed,ssaHistBlue],starts:ssaHistStart});
</script>
</body></html>
